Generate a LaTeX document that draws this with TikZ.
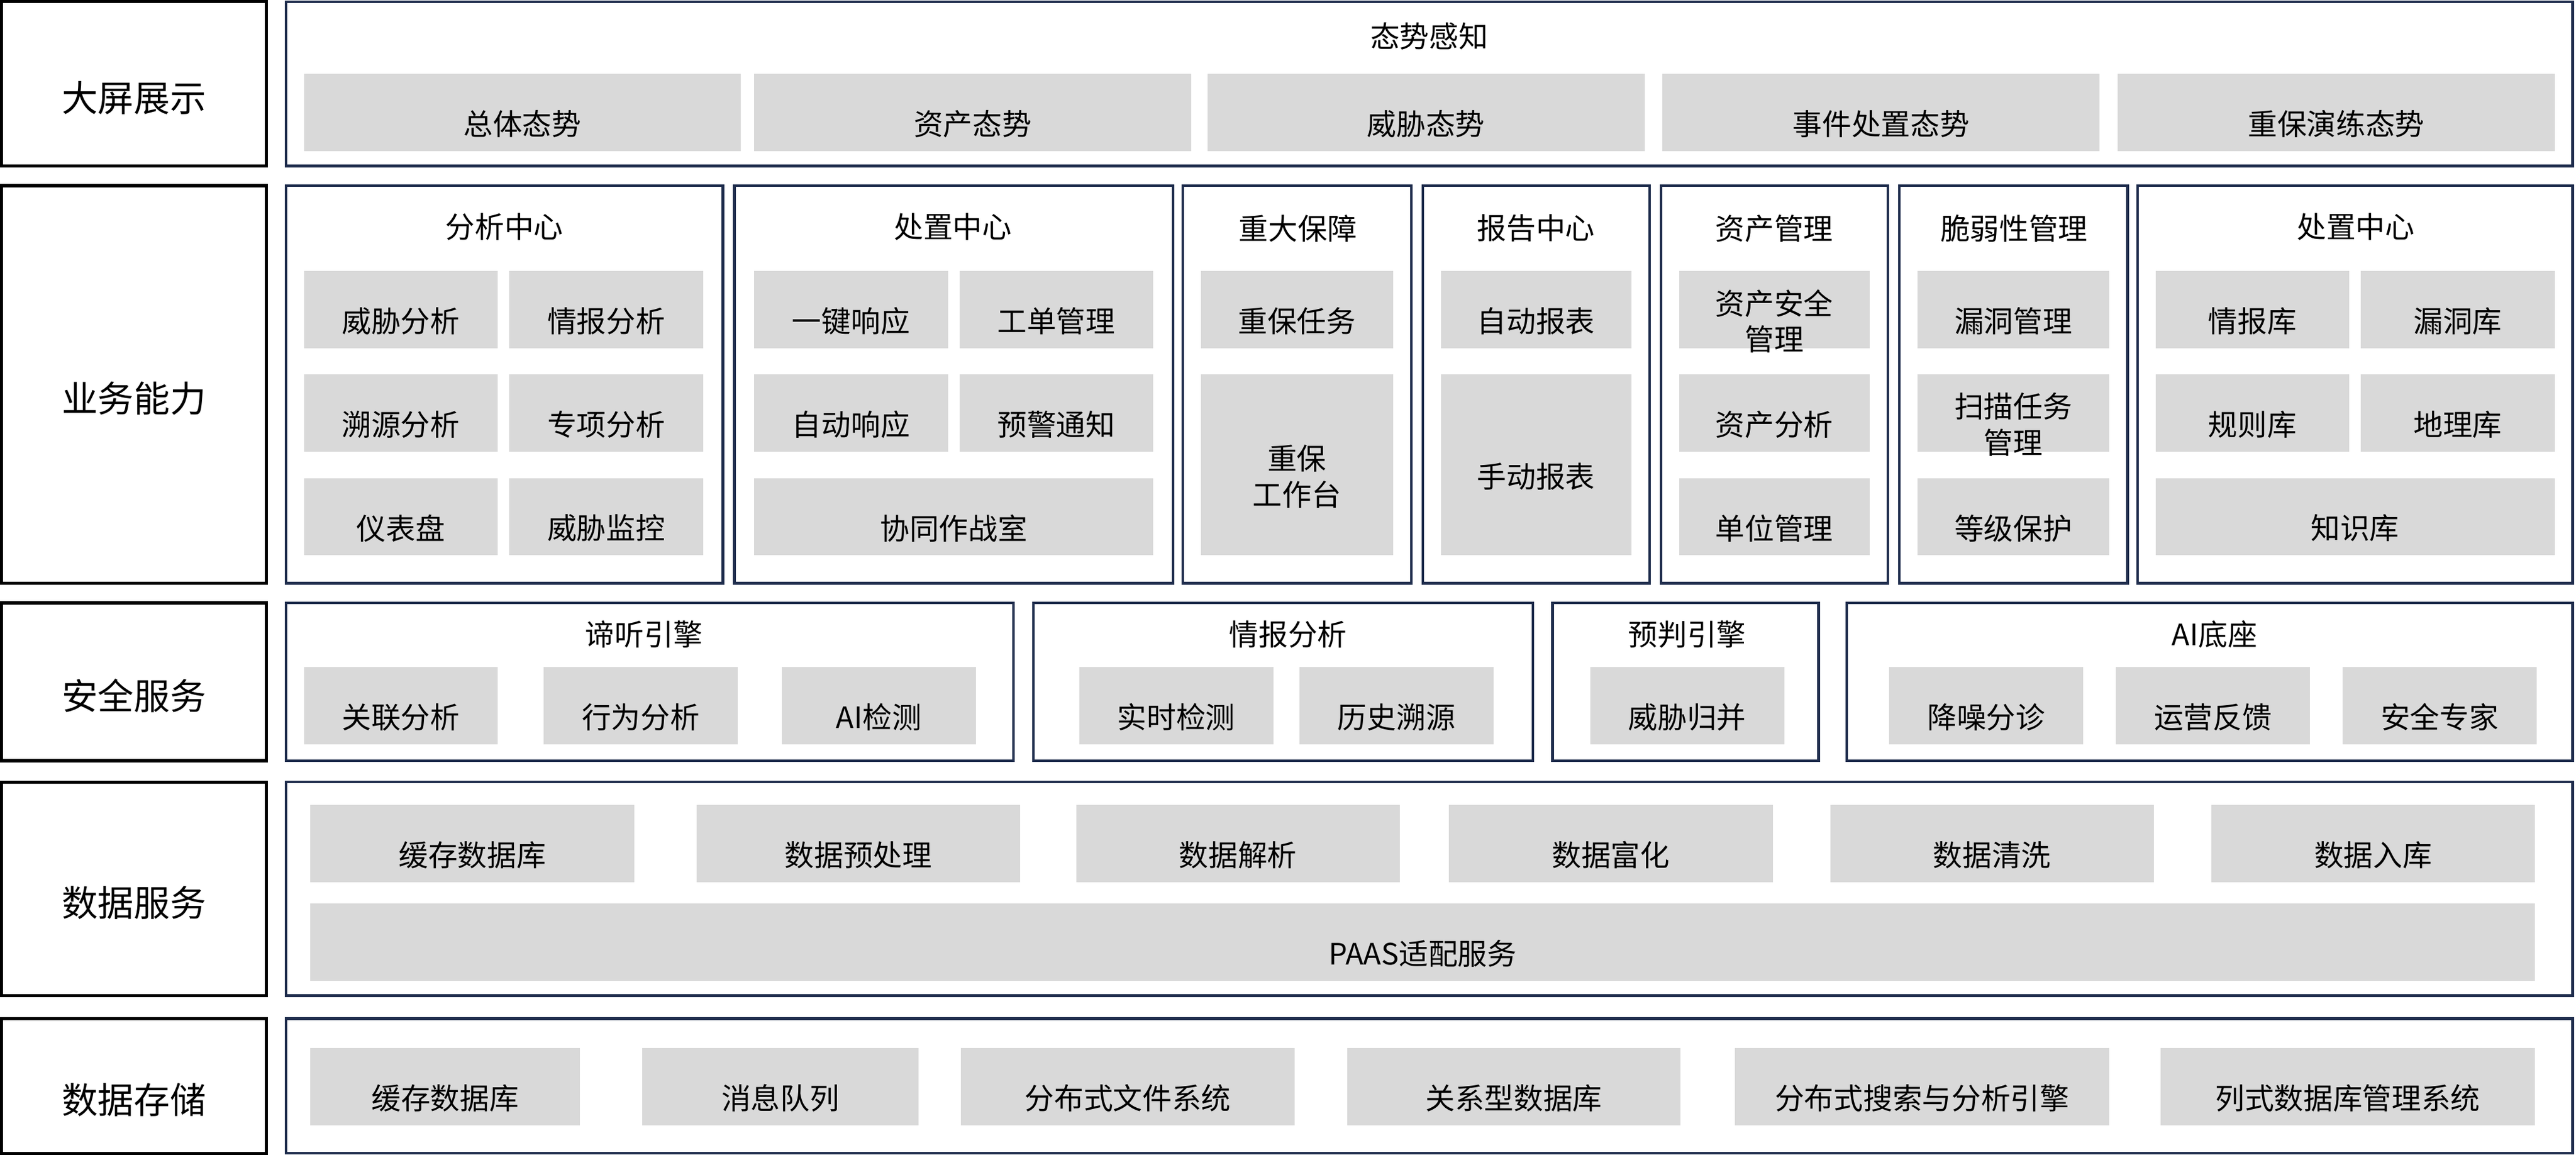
\documentclass[tikz,border=0pt]{standalone}
\usepackage{fontspec}
\setmainfont{Noto Sans CJK SC}
\usetikzlibrary{positioning, fit}
\definecolor{navy}{HTML}{1F2D4D}
\definecolor{cell}{HTML}{D9D9D9}
\tikzset{
  layer/.style={draw=black, line width=1.1pt, inner sep=0pt},
  frame/.style={draw=navy, line width=0.9pt, inner sep=0pt},
  item/.style={fill=cell, inner sep=0pt},
  layertxt/.style={yshift=-0.17cm, font=\fontsize{12.5}{14}\selectfont},
  itemtxt/.style={yshift=-0.14cm, align=center, font=\fontsize{10.2}{12.5}\selectfont},
  ttl/.style={font=\fontsize{10.2}{12}\selectfont},
}
% box from corner to corner, text placed at its centre
\newcommand{\blk}[7][item]{\node[#1, fit={(#3,#4) (#5,#6)}] (#2) {};
  \node[#1txt] at (#2.center) {#7};}
\begin{document}
\begin{tikzpicture}[x=0.02cm, y=-0.02cm]
\useasboundingbox (0,0) rectangle (1568,703);

% left layer labels
\blk[layer]{L1}{1}{1}{162}{101}{大屏展示}
\blk[layer]{L2}{1}{113}{162}{355}{业务能力}
\blk[layer]{L3}{1}{367}{162}{463}{安全服务}
\blk[layer]{L4}{1}{476}{162}{606}{数据服务}
\blk[layer]{L5}{1}{620}{162}{702}{数据存储}

% display
\node[frame, fit={(174,1) (1566,101)}] (F1) {};
\node[ttl] at (870,22) {态势感知};
\blk{a1}{185}{45}{451}{92}{总体态势}
\blk{a2}{459}{45}{725}{92}{资产态势}
\blk{a3}{735}{45}{1001}{92}{威胁态势}
\blk{a4}{1012}{45}{1278}{92}{事件处置态势}
\blk{a5}{1289}{45}{1555}{92}{重保演练态势}

% business
\node[frame, fit={(174,113) (440,355)}] (G1) {};
\node[ttl] at (307,138) {分析中心};
\blk{b11}{185}{165}{303}{212}{威胁分析}
\blk{b12}{310}{165}{428}{212}{情报分析}
\blk{b13}{185}{228}{303}{275}{溯源分析}
\blk{b14}{310}{228}{428}{275}{专项分析}
\blk{b15}{185}{291}{303}{338}{仪表盘}
\blk{b16}{310}{291}{428}{338}{威胁监控}

\node[frame, fit={(447,113) (714,355)}] (G2) {};
\node[ttl] at (580,138) {处置中心};
\blk{b21}{459}{165}{577}{212}{一键响应}
\blk{b22}{584}{165}{702}{212}{工单管理}
\blk{b23}{459}{228}{577}{275}{自动响应}
\blk{b24}{584}{228}{702}{275}{预警通知}
\blk{b25}{459}{291}{702}{338}{协同作战室}

\node[frame, fit={(720,113) (859,355)}] (G3) {};
\node[ttl] at (790,139) {重大保障};
\blk{b31}{731}{165}{848}{212}{重保任务}
\blk{b32}{731}{228}{848}{338}{重保\\工作台}

\node[frame, fit={(866,113) (1004,355)}] (G4) {};
\node[ttl] at (935,139) {报告中心};
\blk{b41}{877}{165}{993}{212}{自动报表}
\blk{b42}{877}{228}{993}{338}{手动报表}

\node[frame, fit={(1011,113) (1149,355)}] (G5) {};
\node[ttl] at (1080,139) {资产管理};
\blk{b51}{1022}{165}{1138}{212}{资产安全\\管理}
\blk{b52}{1022}{228}{1138}{275}{资产分析}
\blk{b53}{1022}{291}{1138}{338}{单位管理}

\node[frame, fit={(1156,113) (1295,355)}] (G6) {};
\node[ttl] at (1226,139) {脆弱性管理};
\blk{b61}{1167}{165}{1284}{212}{漏洞管理}
\blk{b62}{1167}{228}{1284}{275}{扫描任务\\管理}
\blk{b63}{1167}{291}{1284}{338}{等级保护}

\node[frame, fit={(1301,113) (1566,355)}] (G7) {};
\node[ttl] at (1434,138) {处置中心};
\blk{b71}{1312}{165}{1430}{212}{情报库}
\blk{b72}{1437}{165}{1555}{212}{漏洞库}
\blk{b73}{1312}{228}{1430}{275}{规则库}
\blk{b74}{1437}{228}{1555}{275}{地理库}
\blk{b75}{1312}{291}{1555}{338}{知识库}

% security services
\node[frame, fit={(174,367) (617,463)}] (S1) {};
\node[ttl] at (392,386) {谛听引擎};
\blk{c11}{185}{406}{303}{453}{关联分析}
\blk{c12}{331}{406}{449}{453}{行为分析}
\blk{c13}{476}{406}{594}{453}{AI检测}

\node[frame, fit={(629,367) (933,463)}] (S2) {};
\node[ttl] at (784,386) {情报分析};
\blk{c21}{657}{406}{775}{453}{实时检测}
\blk{c22}{791}{406}{909}{453}{历史溯源}

\node[frame, fit={(945,367) (1107,463)}] (S3) {};
\node[ttl] at (1027,386) {预判引擎};
\blk{c31}{968}{406}{1086}{453}{威胁归并}

\node[frame, fit={(1124,367) (1566,463)}] (S4) {};
\node[ttl] at (1348,386) {AI底座};
\blk{c41}{1150}{406}{1268}{453}{降噪分诊}
\blk{c42}{1288}{406}{1406}{453}{运营反馈}
\blk{c43}{1426}{406}{1544}{453}{安全专家}

% data services
\node[frame, fit={(174,476) (1566,606)}] (D1) {};
\blk{d1}{189}{490}{386}{537}{缓存数据库}
\blk{d2}{424}{490}{621}{537}{数据预处理}
\blk{d3}{655}{490}{852}{537}{数据解析}
\blk{d4}{882}{490}{1079}{537}{数据富化}
\blk{d5}{1114}{490}{1311}{537}{数据清洗}
\blk{d6}{1346}{490}{1543}{537}{数据入库}
\blk{d7}{189}{550}{1543}{597}{PAAS适配服务}

% storage
\node[frame, fit={(174,620) (1566,702)}] (E1) {};
\blk{e1}{189}{638}{353}{685}{缓存数据库}
\blk{e2}{391}{638}{559}{685}{消息队列}
\blk{e3}{585}{638}{788}{685}{分布式文件系统}
\blk{e4}{820}{638}{1023}{685}{关系型数据库}
\blk{e5}{1056}{638}{1284}{685}{分布式搜索与分析引擎}
\blk{e6}{1315}{638}{1543}{685}{列式数据库管理系统}
\end{tikzpicture}
\end{document}
